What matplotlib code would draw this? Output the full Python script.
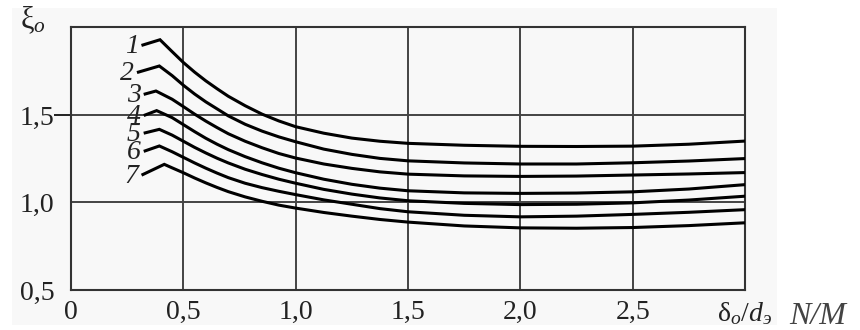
import matplotlib
matplotlib.use("Agg")
import matplotlib.pyplot as plt
from matplotlib.patches import Rectangle

# curve labels and the short leader line (start point -> peak) for each curve
labels = ["1", "2", "3", "4", "5", "6", "7"]
lead_x = [0.32, 0.30, 0.33, 0.33, 0.33, 0.33, 0.32]
lead_y = [1.90, 1.745, 1.62, 1.50, 1.398, 1.295, 1.16]
peak_x = [0.396, 0.393, 0.378, 0.381, 0.393, 0.393, 0.415]
peak_y = [1.93, 1.78, 1.637, 1.525, 1.418, 1.323, 1.218]

# values at common x positions after the peak
x_common = [0.45, 0.5, 0.55, 0.6, 0.65, 0.7, 0.775, 0.85, 0.925, 1.0,
            1.125, 1.25, 1.375, 1.5, 1.75, 2.0, 2.25, 2.5, 2.75, 3.0]
c1 = [1.862, 1.800, 1.745, 1.695, 1.650, 1.607, 1.553, 1.505, 1.466, 1.433,
      1.396, 1.368, 1.350, 1.338, 1.327, 1.321, 1.320, 1.322, 1.333, 1.351]
c2 = [1.725, 1.670, 1.620, 1.575, 1.535, 1.495, 1.447, 1.408, 1.375, 1.347,
      1.305, 1.275, 1.252, 1.238, 1.226, 1.220, 1.220, 1.227, 1.237, 1.251]
c3 = [1.590, 1.548, 1.505, 1.465, 1.428, 1.393, 1.350, 1.313, 1.280, 1.254,
      1.220, 1.195, 1.175, 1.162, 1.152, 1.149, 1.151, 1.157, 1.163, 1.171]
c4 = [1.485, 1.445, 1.405, 1.367, 1.333, 1.302, 1.262, 1.227, 1.196, 1.170,
      1.133, 1.104, 1.082, 1.067, 1.055, 1.052, 1.054, 1.061, 1.077, 1.102]
c5 = [1.385, 1.350, 1.315, 1.283, 1.253, 1.226, 1.190, 1.160, 1.133, 1.110,
      1.075, 1.048, 1.026, 1.010, 0.995, 0.988, 0.990, 0.998, 1.014, 1.036]
c6 = [1.290, 1.258, 1.226, 1.196, 1.168, 1.142, 1.110, 1.085, 1.064, 1.045,
      1.015, 0.990, 0.965, 0.947, 0.927, 0.918, 0.922, 0.932, 0.944, 0.959]
c7 = [1.198, 1.170, 1.140, 1.112, 1.086, 1.062, 1.032, 1.007, 0.985, 0.968,
      0.943, 0.922, 0.903, 0.888, 0.866, 0.855, 0.853, 0.857, 0.868, 0.884]
curves = [c1, c2, c3, c4, c5, c6, c7]

x_ticks = [0, 0.5, 1.0, 1.5, 2.0, 2.5, 3.0]
x_ticklabels = ["0", "0,5", "1,0", "1,5", "2,0", "2,5", "δ$_о$/$d_э$"]
y_ticks = [0.5, 1.0, 1.5]
y_ticklabels = ["0,5", "1,0", "1,5"]

plt.rcParams["font.family"] = ["Liberation Serif", "DejaVu Serif"]
plt.rcParams["mathtext.fontset"] = "custom"
plt.rcParams["mathtext.rm"] = "Liberation Serif"
plt.rcParams["mathtext.it"] = "Liberation Serif:italic"

fig = plt.figure(figsize=(8.6, 3.3), dpi=100, facecolor="white")
# light grey scanned-page background behind the chart
fig.patches.append(Rectangle((12 / 860, 5 / 330), 765 / 860, 317 / 330,
                             transform=fig.transFigure, facecolor="#f8f8f8",
                             edgecolor="none", zorder=-10))

ax = fig.add_axes([0.0826, 0.1212, 0.7837, 0.7955])
ax.set_facecolor("#f8f8f8")

for i in range(len(curves)):
    xs = [lead_x[i], peak_x[i]] + x_common
    ys = [lead_y[i], peak_y[i]] + curves[i]
    ax.plot(xs, ys, color="black", lw=2.2, solid_joinstyle="miter", zorder=3)
    ax.text(lead_x[i] - 0.02, lead_y[i] - 0.01, labels[i], ha="right",
            va="center", fontsize=20, style="italic", color="#222222",
            zorder=4)

ax.set_xlim(0, 3.0)
ax.set_ylim(0.5, 2.0)
ax.set_xticks(x_ticks)
ax.set_xticklabels(x_ticklabels)
ax.set_yticks(y_ticks)
ax.set_yticklabels(y_ticklabels)

for x in x_ticks[1:-1]:
    ax.axvline(x, color="#444444", lw=1.4, zorder=1)
for y in y_ticks[1:]:
    ax.axhline(y, color="#444444", lw=1.4, zorder=1)

for s in ax.spines.values():
    s.set_color("#333333")
    s.set_linewidth(1.5)

ax.tick_params(axis="x", length=0, pad=7, labelsize=20, colors="#222222")
ax.tick_params(axis="y", length=0, pad=12, labelsize=20, colors="#222222")
# the 1,5 grid line sticks out past the left spine
ax.yaxis.get_major_ticks()[2].tick1line.set_markersize(12)
ax.yaxis.get_major_ticks()[2].tick1line.set_markeredgewidth(1.4)
ax.yaxis.get_major_ticks()[2].tick1line.set_color("#444444")

fig.text(20 / 860, 1 - 20 / 330, "ξ$_о$", fontsize=22, color="#222222",
         ha="left", va="center")
fig.text(818 / 860, 1 - 317 / 330, "N/M", fontsize=23, style="italic",
         color="#444444", ha="center", va="center")

plt.savefig("out.png", dpi=100, facecolor="white")
